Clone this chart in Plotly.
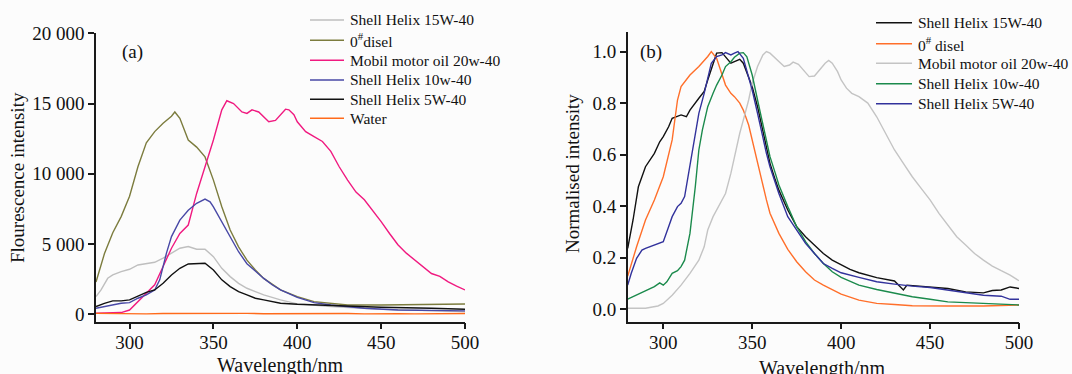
import plotly.graph_objects as go

# ---------------- Panel (a): fluorescence intensity ----------------
a_gray_x = [280, 283, 287, 290, 295, 300, 305, 310, 315, 320, 325, 330, 335, 340, 345, 350, 355, 360, 365, 370, 375, 380, 390, 400, 420, 450, 500]
a_gray_y = [1260, 1730, 2560, 2800, 3040, 3200, 3510, 3630, 3700, 3990, 4340, 4700, 4820, 4630, 4630, 4100, 3270, 2680, 2200, 1850, 1610, 1380, 1020, 740, 550, 360, 190]

a_olive_x = [280, 285, 290, 295, 300, 305, 310, 315, 320, 325, 327, 330, 335, 340, 345, 350, 355, 360, 365, 370, 375, 380, 390, 400, 410, 420, 430, 450, 475, 500]
a_olive_y = [2300, 4300, 5800, 6950, 8400, 10500, 12200, 13000, 13600, 14100, 14400, 13950, 12400, 11900, 11200, 9550, 7650, 6000, 4800, 3850, 3150, 2550, 1730, 1250, 900, 780, 660, 660, 680, 730]

a_pink_x = [280, 290, 295, 300, 305, 310, 315, 320, 325, 330, 335, 340, 345, 350, 355, 358, 362, 367, 370, 373, 377, 380, 383, 387, 390, 393, 395, 398, 400, 405, 410, 415, 420, 425, 430, 435, 440, 445, 450, 455, 460, 465, 470, 475, 480, 485, 490, 495, 500]
a_pink_y = [70, 70, 120, 300, 900, 1500, 2100, 3400, 4700, 5750, 6350, 8600, 10500, 12400, 14550, 15200, 15000, 14400, 14300, 14550, 14400, 14050, 13700, 13800, 14200, 14600, 14550, 14200, 13700, 13000, 12650, 12300, 11600, 10500, 9550, 8700, 8150, 7400, 6600, 5750, 4950, 4350, 3850, 3400, 2900, 2700, 2300, 2000, 1730]

a_blue_x = [280, 290, 295, 300, 305, 310, 315, 318, 320, 322, 325, 330, 335, 340, 345, 348, 350, 355, 360, 365, 370, 375, 380, 385, 390, 400, 410, 420, 440, 460, 500]
a_blue_y = [430, 660, 780, 830, 1140, 1380, 1730, 2450, 3400, 4350, 5530, 6700, 7400, 7900, 8200, 8000, 7650, 6600, 5530, 4450, 3600, 3050, 2550, 2100, 1730, 1200, 830, 660, 430, 300, 240]

a_black_x = [280, 285, 290, 295, 300, 305, 310, 315, 320, 325, 330, 335, 340, 345, 350, 355, 360, 365, 370, 375, 380, 390, 400, 420, 450, 480, 500]
a_black_y = [550, 780, 950, 950, 1020, 1300, 1560, 1730, 2200, 2800, 3270, 3580, 3630, 3630, 3150, 2450, 1970, 1610, 1380, 1140, 1020, 780, 710, 620, 500, 430, 360]

a_water_x = [280, 290, 300, 310, 320, 330, 340, 350, 360, 370, 380, 390, 400, 410, 420, 430, 440, 450, 460, 470, 480, 490, 500]
a_water_y = [60, 40, 70, 30, 50, 60, 30, 50, 40, 60, 40, 50, 30, 60, 40, 50, 30, 50, 40, 30, 50, 40, 50]

# ---------------- Panel (b): normalised intensity ----------------
b_black_x = [280, 283, 286, 290, 295, 298, 300, 303, 305, 310, 313, 315, 320, 323, 325, 328, 330, 333, 335, 338, 340, 343, 345, 348, 350, 353, 355, 358, 360, 363, 365, 370, 375, 380, 385, 390, 395, 400, 405, 410, 420, 430, 435, 437, 440, 450, 460, 470, 480, 485, 490, 495, 500]
b_black_y = [0.236, 0.346, 0.475, 0.553, 0.605, 0.650, 0.670, 0.708, 0.741, 0.754, 0.747, 0.773, 0.819, 0.845, 0.890, 0.955, 0.994, 0.996, 0.980, 0.955, 0.961, 0.970, 0.955, 0.903, 0.864, 0.786, 0.722, 0.631, 0.566, 0.501, 0.462, 0.385, 0.320, 0.281, 0.249, 0.216, 0.190, 0.171, 0.154, 0.141, 0.122, 0.109, 0.074, 0.093, 0.091, 0.084, 0.080, 0.067, 0.063, 0.072, 0.074, 0.086, 0.080]

b_orange_x = [280, 285, 290, 295, 300, 305, 308, 310, 315, 320, 325, 327, 330, 333, 335, 338, 340, 343, 345, 348, 350, 353, 355, 358, 360, 365, 370, 375, 380, 385, 390, 395, 400, 410, 420, 430, 440, 460, 480, 500]
b_orange_y = [0.128, 0.242, 0.346, 0.424, 0.514, 0.657, 0.812, 0.864, 0.909, 0.942, 0.981, 1.000, 0.974, 0.916, 0.870, 0.838, 0.825, 0.800, 0.773, 0.715, 0.657, 0.566, 0.501, 0.424, 0.372, 0.294, 0.232, 0.184, 0.145, 0.113, 0.093, 0.074, 0.058, 0.035, 0.022, 0.018, 0.013, 0.012, 0.012, 0.016]

b_gray_x = [280, 290, 297, 300, 305, 310, 315, 320, 323, 325, 328, 330, 333, 335, 338, 340, 343, 345, 348, 350, 353, 356, 358, 360, 363, 366, 368, 371, 373, 376, 379, 382, 385, 388, 391, 393, 395, 398, 400, 403, 406, 410, 415, 420, 425, 430, 435, 440, 445, 450, 455, 460, 465, 470, 475, 480, 485, 490, 495, 500]
b_gray_y = [0.003, 0.003, 0.012, 0.022, 0.054, 0.093, 0.139, 0.190, 0.242, 0.307, 0.359, 0.385, 0.424, 0.449, 0.527, 0.592, 0.683, 0.734, 0.812, 0.877, 0.942, 0.987, 1.000, 0.994, 0.974, 0.955, 0.942, 0.948, 0.959, 0.951, 0.929, 0.903, 0.905, 0.929, 0.955, 0.966, 0.955, 0.922, 0.890, 0.858, 0.838, 0.825, 0.800, 0.747, 0.683, 0.618, 0.566, 0.514, 0.469, 0.424, 0.372, 0.326, 0.281, 0.249, 0.216, 0.190, 0.167, 0.149, 0.132, 0.110]

b_green_x = [280, 285, 290, 295, 298, 300, 302, 305, 308, 310, 312, 315, 318, 320, 322, 325, 328, 330, 333, 335, 338, 340, 343, 345, 347, 350, 353, 355, 358, 360, 363, 365, 370, 375, 380, 385, 390, 395, 400, 410, 420, 430, 440, 450, 460, 470, 480, 490, 500]
b_green_y = [0.039, 0.054, 0.070, 0.087, 0.102, 0.093, 0.106, 0.139, 0.149, 0.165, 0.190, 0.294, 0.475, 0.618, 0.696, 0.786, 0.838, 0.870, 0.909, 0.942, 0.961, 0.978, 0.994, 0.996, 0.980, 0.909, 0.812, 0.747, 0.657, 0.592, 0.527, 0.482, 0.398, 0.320, 0.262, 0.216, 0.177, 0.145, 0.123, 0.093, 0.076, 0.061, 0.048, 0.038, 0.028, 0.025, 0.022, 0.019, 0.016]

b_blue_x = [280, 282, 285, 288, 290, 295, 298, 300, 303, 305, 308, 310, 312, 315, 318, 320, 323, 325, 327, 330, 333, 335, 338, 340, 342, 345, 348, 350, 353, 355, 358, 360, 363, 365, 370, 375, 380, 385, 390, 395, 400, 410, 420, 430, 440, 450, 460, 470, 480, 490, 495, 500]
b_blue_y = [0.093, 0.139, 0.197, 0.229, 0.236, 0.249, 0.255, 0.262, 0.320, 0.359, 0.398, 0.411, 0.437, 0.553, 0.683, 0.760, 0.838, 0.903, 0.955, 0.981, 0.987, 0.996, 0.987, 0.994, 1.000, 0.974, 0.903, 0.851, 0.760, 0.696, 0.605, 0.553, 0.488, 0.449, 0.359, 0.307, 0.255, 0.216, 0.177, 0.158, 0.141, 0.123, 0.106, 0.097, 0.089, 0.084, 0.074, 0.063, 0.054, 0.050, 0.038, 0.038]

a_names = ["Shell Helix 15W-40", "0<sup>#</sup>disel", "Mobil motor oil 20w-40", "Shell Helix 10w-40", "Shell Helix 5W-40", "Water"]
b_names = ["Shell Helix 15W-40", "0<sup>#</sup> disel", "Mobil motor oil 20w-40", "Shell Helix 10w-40", "Shell Helix 5W-40"]

a_y_ticks = [0, 5000, 10000, 15000, 20000]
a_y_labels = ["0", "5 000", "10 000", "15 000", "20 000"]
b_y_ticks = [0.0, 0.2, 0.4, 0.6, 0.8, 1.0]
b_y_labels = ["0.0", "0.2", "0.4", "0.6", "0.8", "1.0"]
x_ticks = [300, 350, 400, 450, 500]

FONT = "Liberation Serif"
LW = 1.4
W, H = 1072, 374
INK = "#111111"

a_colors = ["#bfbfbf", "#7c7c3e", "#f01a80", "#4848a6", "#111111", "#ff6a1a"]
b_colors = ["#111111", "#ff6f2a", "#c4c4c4", "#1b8a4c", "#32329c"]

fig = go.Figure()

a_series = [(a_gray_x, a_gray_y), (a_olive_x, a_olive_y), (a_pink_x, a_pink_y),
            (a_blue_x, a_blue_y), (a_black_x, a_black_y), (a_water_x, a_water_y)]
for (xs, ys), col, name in zip(a_series, a_colors, a_names):
    fig.add_trace(go.Scatter(x=xs, y=ys, mode="lines", name=name, showlegend=False,
                             line=dict(color=col, width=LW), xaxis="x", yaxis="y"))

b_series = [(b_black_x, b_black_y), (b_orange_x, b_orange_y), (b_gray_x, b_gray_y),
            (b_green_x, b_green_y), (b_blue_x, b_blue_y)]
for (xs, ys), col, name in zip(b_series, b_colors, b_names):
    fig.add_trace(go.Scatter(x=xs, y=ys, mode="lines", name=name, showlegend=False,
                             line=dict(color=col, width=LW), xaxis="x2", yaxis="y2"))

axis_common = dict(showline=True, linecolor="#1a1a1a", linewidth=1.5,
                   ticks="outside", ticklen=6, tickwidth=1.5, tickcolor="#1a1a1a",
                   showgrid=False, zeroline=False, automargin=False,
                   tickfont=dict(family=FONT, size=19, color=INK))

annotations = []
shapes = []

# legend-like keys (lines + real text labels)
def add_key(names, colors, x0, x1, xt, rows):
    for name, col, yy in zip(names, colors, rows):
        shapes.append(dict(type="line", xref="paper", yref="paper",
                           x0=x0 / W, x1=x1 / W, y0=1 - yy / H, y1=1 - yy / H,
                           line=dict(color=col, width=1.6)))
        annotations.append(dict(text=name, x=xt / W, y=1 - yy / H, xref="paper", yref="paper",
                                xanchor="left", yanchor="middle", showarrow=False,
                                font=dict(family=FONT, size=15.5, color=INK)))

add_key(a_names, a_colors, 310, 344, 348, [20, 40.3, 60.3, 80, 99.3, 118.3])
add_key(b_names, b_colors, 876, 912, 916, [22.7, 43.7, 63.3, 83.7, 103.7])

# panel labels and axis titles
def add_text(text, x, y, size=19, angle=0):
    annotations.append(dict(text=text, x=x / W, y=1 - y / H, xref="paper", yref="paper",
                            xanchor="center", yanchor="middle", showarrow=False, textangle=angle,
                            font=dict(family=FONT, size=size, color=INK)))

add_text("(a)", 132, 52)
add_text("(b)", 651, 52)
add_text("Flourescence intensity", 17, 178, angle=-90)
add_text("Normalised intensity", 572, 174, angle=-90)
add_text("Wavelength/nm", 280, 365, size=20)
add_text("Wavelength/nm", 822, 368, size=20)

x_extra = dict(ticklabelstandoff=-3)

fig.update_layout(
    width=W, height=H,
    margin=dict(l=0, r=0, t=0, b=0, autoexpand=False),
    paper_bgcolor="#fcfcfc", plot_bgcolor="#fcfcfc",
    font=dict(family=FONT, color=INK),
    showlegend=False,
    xaxis=dict(domain=[96 / W, 465 / W], range=[280, 500], tickvals=x_ticks, anchor="y",
               **x_extra, **axis_common),
    yaxis=dict(domain=[1 - 321.7 / H, 1 - 33.3 / H], range=[-530, 20000],
               tickvals=a_y_ticks, ticktext=a_y_labels, anchor="x", **axis_common),
    xaxis2=dict(domain=[627.7 / W, 1019 / W], range=[280, 500], tickvals=x_ticks, anchor="y2",
                **x_extra, **axis_common),
    yaxis2=dict(domain=[1 - 321.7 / H, 1 - 32.3 / H], range=[-0.049, 1.075],
                tickvals=b_y_ticks, ticktext=b_y_labels, anchor="x2", **axis_common),
    annotations=annotations,
    shapes=shapes,
)

fig.write_html("out.html", config={"displayModeBar": False},
               post_script="document.body.style.margin='0';document.body.style.overflow='hidden';")
